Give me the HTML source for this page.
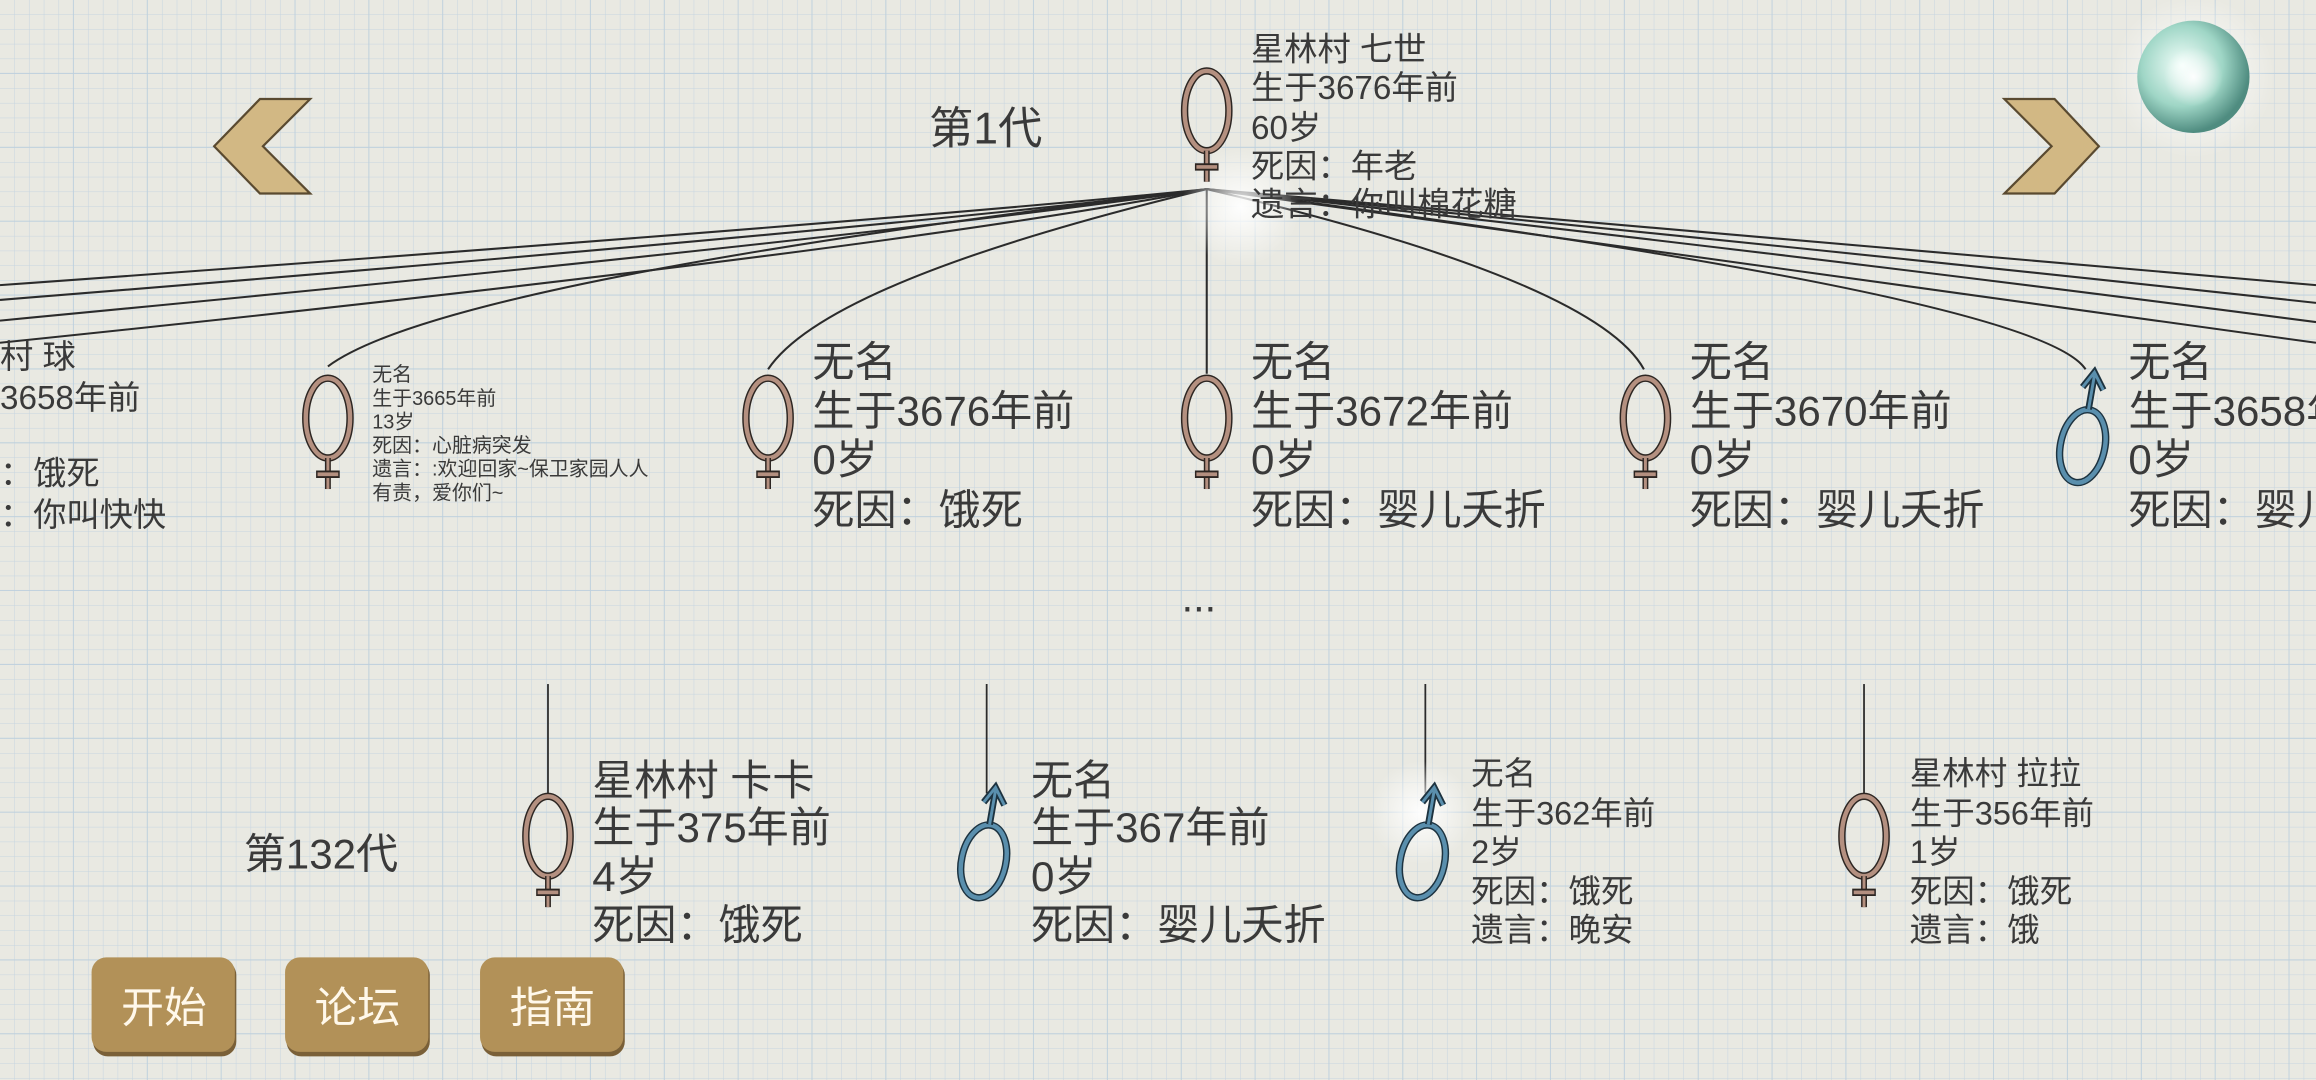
<!DOCTYPE html>
<html><head><meta charset="utf-8"><style>
html,body{margin:0;padding:0;width:2316px;height:1080px;overflow:hidden;background:#e9e9e2}
svg{display:block}
text{font-family:"Liberation Sans","Noto Sans CJK SC",sans-serif;fill:#3a3a3a}
</style></head><body>
<svg width="2316" height="1080" viewBox="0 0 1568 731" preserveAspectRatio="none" xmlns="http://www.w3.org/2000/svg">
<defs>
<pattern id="g" width="10" height="10" patternUnits="userSpaceOnUse">
<path d="M10 0V10M0 10H10" stroke="#c6d5e0" stroke-width="0.7" fill="none"/>
</pattern>
<pattern id="G" width="50" height="50" patternUnits="userSpaceOnUse">
<path d="M50 0V50M0 50H50" stroke="#bccfdd" stroke-width="1.1" fill="none"/>
</pattern>
<g id="fem">
<ellipse cx="0" cy="0" rx="15" ry="27" fill="none" stroke="#2d2622" stroke-width="5"/>
<ellipse cx="0" cy="0" rx="15" ry="27" fill="none" stroke="#b49080" stroke-width="3"/>
<line x1="0" y1="27" x2="0" y2="48" stroke="#2d2622" stroke-width="4"/>
<line x1="0" y1="27" x2="0" y2="48" stroke="#b49080" stroke-width="2"/>
<line x1="-8" y1="38" x2="8" y2="38" stroke="#2d2622" stroke-width="5"/>
<line x1="-7" y1="38" x2="7" y2="38" stroke="#b49080" stroke-width="2.5"/>
</g>
<g id="mal">
<ellipse cx="0" cy="0" rx="15" ry="25" fill="none" stroke="#1d3340" stroke-width="5" transform="rotate(12)"/>
<ellipse cx="0" cy="0" rx="15" ry="25" fill="none" stroke="#5a8fad" stroke-width="3" transform="rotate(12)"/>
<path d="M4 -25 L8 -48 M0 -40 L8 -50 L14 -38" fill="none" stroke="#1d3340" stroke-width="4.5"/>
<path d="M4 -25 L8 -48 M0 -40 L8 -50 L14 -38" fill="none" stroke="#5a8fad" stroke-width="2"/>
</g>
<radialGradient id="orb" cx="0.4" cy="0.4" r="0.6"><stop offset="0" stop-color="#f4fffb"/><stop offset="0.6" stop-color="#9fd6c6"/><stop offset="1" stop-color="#4f8c80"/></radialGradient>
<radialGradient id="glow"><stop offset="0" stop-color="#fff" stop-opacity="0.95"/><stop offset="1" stop-color="#fff" stop-opacity="0"/></radialGradient>
</defs>
<rect width="1568" height="731" fill="#e9e9e2"/>
<rect width="1568" height="731" fill="url(#g)"/>
<rect width="1568" height="731" fill="url(#G)"/>

<path d="M176 67 L210 67 L178 99 L210 131 L176 131 L145 99 Z" fill="#d2b884" stroke="#5a4a30" stroke-width="1.5"/>
<path d="M1391 67 L1357 67 L1389 99 L1357 131 L1391 131 L1421 99 Z" fill="#d2b884" stroke="#5a4a30" stroke-width="1.5"/>
<circle cx="1485" cy="52" r="55" fill="url(#glow)"/>
<ellipse cx="1485" cy="52" rx="38" ry="38" fill="url(#orb)"/>
<circle cx="1485" cy="52" r="20" fill="url(#glow)"/>

<text x="629" y="97" font-size="30">第1代</text>

<g fill="none" stroke="#2b2b2b" stroke-width="1.4">
<path d="M817 128 Q600 150 0 193"/>
<path d="M817 128 Q600 155 0 203"/>
<path d="M817 128 Q600 160 0 217"/>
<path d="M817 128 Q600 170 0 232"/>
<path d="M817 128 Q300 190 222 248"/>
<path d="M817 128 Q560 190 520 250"/>
<path d="M817 128 L817 253"/>
<path d="M817 128 Q1080 190 1113 250"/>
<path d="M817 128 Q1380 200 1412 250"/>
<path d="M817 128 Q1200 160 1568 193"/>
<path d="M817 128 Q1200 165 1568 205"/>
<path d="M817 128 Q1200 170 1568 218"/>
<path d="M817 128 Q1200 180 1568 232"/>
</g>
<circle cx="840" cy="140" r="40" fill="url(#glow)"/>

<use href="#fem" x="817" y="75"/>
<g font-size="22.5"><text x="847" y="41">星林村 七世</text><text x="847" y="67">生于3676年前</text><text x="847" y="94">60岁</text><text x="847" y="120">死因：年老</text><text x="847" y="146">遗言：你叫棉花糖</text></g>

<g font-size="22.5"><text x="0" y="249">村 球</text><text x="0" y="277">3658年前</text><text x="0" y="328">：饿死</text><text x="0" y="356">：你叫快快</text></g>
<use href="#fem" x="222" y="283"/>
<g font-size="13.5" fill="#555"><text x="252" y="258">无名</text><text x="252" y="274">生于3665年前</text><text x="252" y="290">13岁</text><text x="252" y="306">死因：心脏病突发</text><text x="252" y="322">遗言：:欢迎回家~保卫家园人人</text><text x="252" y="338">有责，爱你们~</text></g>

<use href="#fem" x="520" y="283"/>
<g font-size="28.5"><text x="550" y="255">无名</text><text x="550" y="288">生于3676年前</text><text x="550" y="321">0岁</text><text x="550" y="355">死因：饿死</text></g>
<use href="#fem" x="817" y="283"/>
<g font-size="28.5"><text x="847" y="255">无名</text><text x="847" y="288">生于3672年前</text><text x="847" y="321">0岁</text><text x="847" y="355">死因：婴儿夭折</text></g>
<use href="#fem" x="1114" y="283"/>
<g font-size="28.5"><text x="1144" y="255">无名</text><text x="1144" y="288">生于3670年前</text><text x="1144" y="321">0岁</text><text x="1144" y="355">死因：婴儿夭折</text></g>
<use href="#mal" x="1410" y="302"/>
<g font-size="28.5"><text x="1441" y="255">无名</text><text x="1441" y="288">生于3658年前</text><text x="1441" y="321">0岁</text><text x="1441" y="355">死因：婴儿夭折</text></g>

<text x="800" y="414" font-size="28">...</text>

<g stroke="#2b2b2b" stroke-width="1.2"><line x1="371" y1="463" x2="371" y2="537"/><line x1="668" y1="463" x2="668" y2="537"/><line x1="965" y1="463" x2="965" y2="537"/><line x1="1262" y1="463" x2="1262" y2="537"/></g>
<text x="165" y="588" font-size="28.5">第132代</text>
<use href="#fem" x="371" y="566"/>
<g font-size="28.5"><text x="401" y="538">星林村 卡卡</text><text x="401" y="570">生于375年前</text><text x="401" y="603">4岁</text><text x="401" y="636">死因：饿死</text></g>
<use href="#mal" x="666" y="583"/>
<g font-size="28.5"><text x="698" y="538">无名</text><text x="698" y="570">生于367年前</text><text x="698" y="603">0岁</text><text x="698" y="636">死因：婴儿夭折</text></g>
<circle cx="962" cy="550" r="35" fill="url(#glow)"/>
<use href="#mal" x="963" y="583"/>
<g font-size="22"><text x="996" y="531">无名</text><text x="996" y="558">生于362年前</text><text x="996" y="584">2岁</text><text x="996" y="611">死因：饿死</text><text x="996" y="637">遗言：晚安</text></g>
<use href="#fem" x="1262" y="566"/>
<g font-size="22"><text x="1293" y="531">星林村 拉拉</text><text x="1293" y="558">生于356年前</text><text x="1293" y="584">1岁</text><text x="1293" y="611">死因：饿死</text><text x="1293" y="637">遗言：饿</text></g>

<g>
<rect x="63" y="650" width="97" height="65" rx="10" fill="#7a6038"/>
<rect x="62" y="648" width="97" height="64" rx="10" fill="#b29158"/>
<rect x="194" y="650" width="97" height="65" rx="10" fill="#7a6038"/>
<rect x="193" y="648" width="97" height="64" rx="10" fill="#b29158"/>
<rect x="326" y="650" width="97" height="65" rx="10" fill="#7a6038"/>
<rect x="325" y="648" width="97" height="64" rx="10" fill="#b29158"/>
<g font-size="29"><text x="82" y="692" style="fill:#fff8ea">开始</text><text x="213" y="692" style="fill:#fff8ea">论坛</text><text x="345" y="692" style="fill:#fff8ea">指南</text></g>
</g>
</svg>
</body></html>
